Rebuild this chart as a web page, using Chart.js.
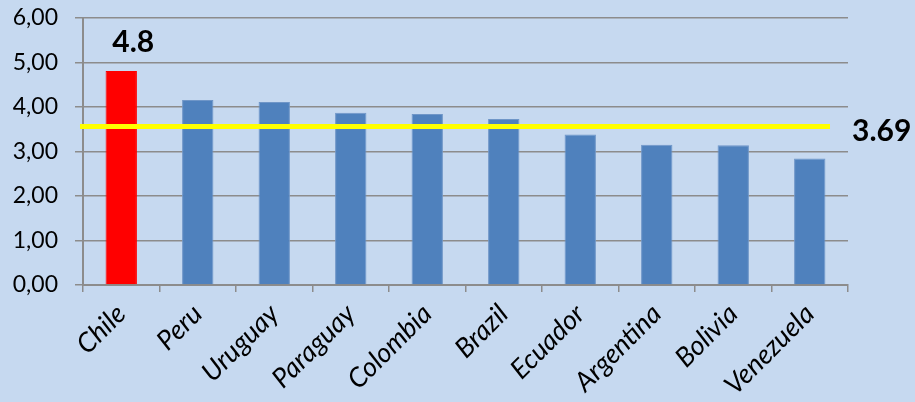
<!DOCTYPE html>
<html><head><meta charset="utf-8">
<script src="https://cdn.jsdelivr.net/npm/chart.js@4/dist/chart.umd.min.js"></script>
<style>html,body{margin:0;padding:0;background:#c6d9f0;}#wrap{width:915px;height:402px;}</style>
</head><body><div id="wrap"><canvas id="c" width="915" height="402"></canvas></div>
<script>
const categories = ["Chile","Peru","Uruguay","Paraguay","Colombia","Brazil","Ecuador","Argentina","Bolivia","Venezuela"];
const values = [4.81, 4.16, 4.11, 3.87, 3.84, 3.73, 3.38, 3.15, 3.14, 2.84];
const barColors = ["#ff0000","#4f81bd","#4f81bd","#4f81bd","#4f81bd","#4f81bd","#4f81bd","#4f81bd","#4f81bd","#4f81bd"];
const averageLineValue = 3.56;
const averageLabel = "3.69";
const highlightLabel = "4.8";
const yTicks = [0,1,2,3,4,5,6];

const FONT = "Lato, 'DejaVu Sans', sans-serif";

const overlay = {
  id: 'overlay',
  afterDatasetsDraw(chart) {
    const ctx = chart.ctx, y = chart.scales.y, x = chart.scales.x, a = chart.chartArea;
    const py = y.getPixelForValue(averageLineValue);
    ctx.save();
    ctx.strokeStyle = '#ffff00';
    ctx.lineWidth = 5;
    ctx.beginPath();
    ctx.moveTo(a.left - 3, py);
    ctx.lineTo(a.right - 18, py);
    ctx.stroke();
    ctx.fillStyle = '#000';
    ctx.font = "bold 30px " + FONT;
    ctx.textBaseline = 'middle';
    ctx.textAlign = 'left';
    ctx.fillText(averageLabel, a.right + 4, py + 5);
    ctx.textAlign = 'center';
    const cx = x.getPixelForValue(0);
    ctx.fillText(highlightLabel, cx + 12, y.getPixelForValue(5.45));
    ctx.restore();
  }
};

new Chart(document.getElementById('c'), {
  type: 'bar',
  data: {
    labels: categories,
    datasets: [{
      data: values,
      backgroundColor: barColors,
      borderColor: barColors.map(c => c === '#ff0000' ? '#ff0000' : '#6f96c8'),
      borderWidth: 1,
      categoryPercentage: 1,
      barPercentage: 0.41
    }]
  },
  options: {
    responsive: false,
    animation: false,
    devicePixelRatio: 1,
    layout: { padding: { left: 0, right: 67, top: 18, bottom: 0 } },
    plugins: { legend: { display: false }, tooltip: { enabled: false } },
    scales: {
      x: {
        grid: { display: true, drawOnChartArea: false, drawTicks: true, tickLength: 7, color: '#8c8c8c', lineWidth: 1.5, offset: true },
        border: { display: true, color: '#8c8c8c', width: 2 },
        ticks: { color: '#000', font: { family: FONT, size: 27, style: 'italic' }, maxRotation: 45, minRotation: 45, padding: 6 },
        afterFit(s) { s.height = 117; }
      },
      y: {
        min: 0, max: 6,
        afterBuildTicks(s) { s.ticks = yTicks.map(v => ({ value: v })); },
        grid: { color: '#8c8c8c', lineWidth: 1.5, tickLength: 8 },
        border: { display: true, color: '#8c8c8c', width: 2 },
        ticks: { color: '#000', font: { family: FONT, size: 23 }, padding: 17,
          callback: v => v.toFixed(2).replace('.', ',') },
        afterFit(s) { s.width = 83; s.paddingTop = 0; s.paddingBottom = 0; }
      }
    }
  },
  plugins: [overlay]
});
</script></body></html>
